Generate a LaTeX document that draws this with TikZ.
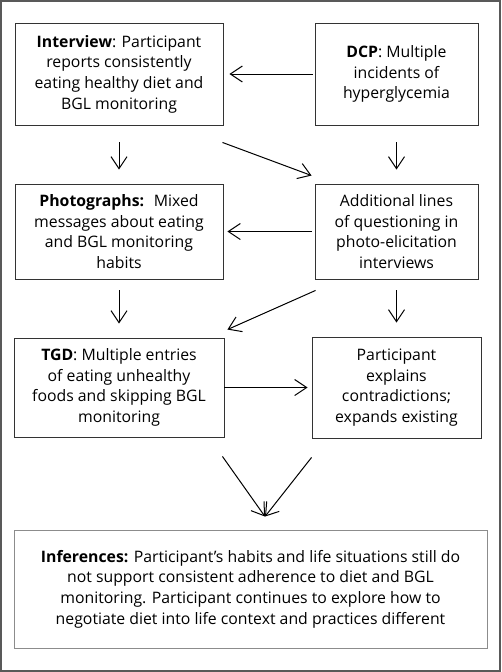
\documentclass[tikz,border=0pt]{standalone}
\usepackage{fontspec}
\setmainfont{Open Sans}
\usetikzlibrary{arrows.meta}

\begin{document}
\begin{tikzpicture}[x=1pt, y=-1pt,
    box/.style={draw=black!80, line width=0.9pt, align=center, inner sep=0pt,
        font=\fontsize{15.8}{20.6}\selectfont},
    arr/.style={draw=black, line width=1pt, -{Straight Barb[length=12pt, width=16pt, line width=1pt]}}]
    \useasboundingbox (0, 0) rectangle (501, 672);
    \draw[black!65, line width=1.5pt] (1, 1) rectangle (500, 671);
    \node[box, minimum width=208pt, minimum height=102pt] (interview) at (119, 74) {\textbf{Interview}: Participant\\reports consistently\\eating healthy diet and\\BGL monitoring};
    \node[box, minimum width=163pt, minimum height=102pt] (dcp) at (396.5, 74) {\textbf{DCP}: Multiple\\incidents of\\hyperglycemia};
    \node[box, minimum width=208pt, minimum height=95pt] (photos) at (119, 231.5) {\textbf{Photographs:}~ Mixed\\messages about eating\\and BGL monitoring\\habits};
    \node[box, minimum width=163pt, minimum height=95pt] (lines) at (396.5, 231.5) {Additional lines\\of questioning in\\photo-elicitation\\interviews};
    \node[box, minimum width=210pt, minimum height=99pt] (tgd) at (119, 387.5) {\textbf{TGD}: Multiple entries\\of eating unhealthy\\foods and skipping BGL\\monitoring};
    \node[box, minimum width=169pt, minimum height=101pt] (explains) at (396.5, 387.5) {Participant\\explains\\contradictions;\\expands existing};
    \node[box, draw=black!45, minimum width=473pt, minimum height=118pt] (inferences) at (250.5, 589) {\textbf{Inferences:} Participant’s habits and life situations still do\\not support consistent adherence to diet and BGL\\monitoring. Participant continues to explore how to\\negotiate diet into life context and practices different};
    \draw[arr, shorten <=2pt, shorten >=6pt] (dcp) -- (interview);
    \draw[arr, shorten <=17pt, shorten >=14pt] (interview) -- (photos);
    \draw[arr, shorten <=17pt, shorten >=14pt] (dcp) -- (lines);
    \draw[arr] ([shift={(-1pt,-17pt)}]interview.south east) -- ([shift={(-3pt,8pt)}]lines.north west);
    \draw[arr, shorten <=3pt, shorten >=4pt] (lines) -- (photos);
    \draw[arr, shorten <=11pt, shorten >=14pt] (photos) -- (tgd);
    \draw[arr, shorten <=11pt, shorten >=14pt] (lines) -- (explains);
    \draw[arr] ([shift={(1pt,-11pt)}]lines.south west) -- ([shift={(3pt,8pt)}]tgd.north east);
    \draw[arr, shorten >=4pt] (tgd) -- (explains);
    \draw[arr] ([shift={(-2pt,-19pt)}]tgd.south east) -- ([shift={(14.5pt,13pt)}]inferences.north);
    \draw[arr] ([shift={(0pt,-19pt)}]explains.south west) -- ([shift={(14.5pt,13pt)}]inferences.north);
\end{tikzpicture}
\end{document}
